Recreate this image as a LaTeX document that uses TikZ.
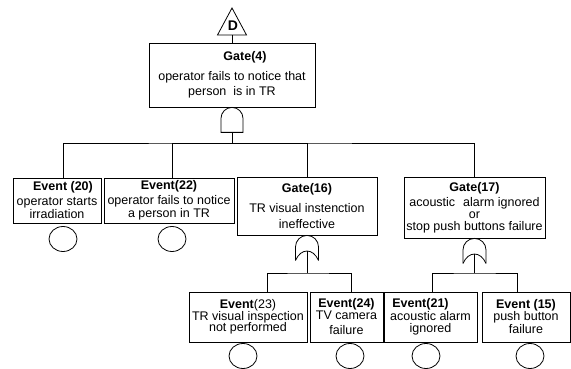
\documentclass[tikz,border=0pt]{standalone}
\usepackage{fontspec}
\setmainfont{Liberation Sans}
\usetikzlibrary{positioning,shapes.geometric}

\begin{document}
\begin{tikzpicture}[
    x=1pt, y=-1pt,
    line width=0.8pt,
    font=\fontsize{12.5}{12.5}\selectfont,
    fbox/.style={draw,align=center,inner sep=0pt},
    basic/.style={draw,ellipse,minimum width=28pt,minimum height=25pt,inner sep=0pt},
    andgate/.pic={
      \draw (-11,25) -- (-11,11) arc[start angle=180,end angle=0,radius=11pt] -- (11,25) -- cycle;
      \coordinate (-out) at (0,25);
    },
    orgate/.pic={
      \draw (-11.5,25) -- (-11.5,11.5) arc[start angle=180,end angle=0,radius=11.5pt] -- (11.5,25);
      \draw (-11.5,25) .. controls (-6,12.5) and (6,12.5) .. (11.5,25);
      \coordinate (-out) at (0,15.6);
    }
  ]
  \useasboundingbox (0,0) rectangle (571,369);

  % top event
  \node[fbox,minimum width=166pt,minimum height=64pt] (g4) at (232,75)
    {\hspace*{26pt}\textbf{Gate(4)}\\[7.5pt]operator fails to notice that\\[2.5pt]person\ \ is in TR};
  \coordinate (tri) at (232,35);
  \draw (tri) ++(-14.5,0) -- ++(29,0) -- (232,8) -- cycle;
  \node[font=\fontsize{14}{14}\selectfont\bfseries] (xfer) at (233,26) {D};
  \draw (tri) -- (g4.north);
  \pic (g4and) at (g4.south) {andgate};

  % second level
  \node[fbox,minimum width=88pt,minimum height=45pt] (e20) at (57,200.5)
    {\hspace*{12pt}\textbf{Event (20)}\\[2.5pt]operator starts\\[0.5pt]irradiation};
  \node[fbox,minimum width=130pt,minimum height=45pt] (e22) at (169,200.5)
    {\textbf{Event(22)}\\[2.5pt]operator fails to notice\\[0.5pt]a person in TR};
  \node[fbox,minimum width=140pt,minimum height=58pt] (g16) at (307,206)
    {\textbf{Gate(16)}\\[7.5pt]TR visual instenction\\[3.5pt]ineffective};
  \node[fbox,minimum width=141pt,minimum height=61pt] (g17) at (474.5,207.5)
    {\textbf{Gate(17)}\\[3pt]acoustic\hspace{8pt}alarm ignored\\[-1pt]or\hspace*{18pt}\\[-0.5pt]stop push buttons failure};
  \node[basic] (c20) at (63,239) {};
  \node[basic] (c22) at (172,239) {};

  \coordinate (bar4) at (232,143);
  \draw (g4and-out) -- (bar4);
  \draw ([xshift=6pt]e20.north) |- (bar4) -| (g17.north);
  \draw ([xshift=3pt]e22.north) |- (bar4);
  \draw (g16.north) |- (bar4);

  \pic (g16or) at (g16.south) {orgate};
  \pic (g17or) at (g17.south) {orgate};

  % third level
  \node[fbox,minimum width=118pt,minimum height=50pt] (e23) at (248,317)
    {\textbf{Event}(23)\\[-0.5pt]TR visual inspection\\[-1pt]not performed};
  \node[fbox,minimum width=73pt,minimum height=50pt] (e24) at (346.5,317)
    {\textbf{Event(24)}\\[-0.5pt]TV camera\\[2.5pt]failure};
  \node[fbox,minimum width=93pt,minimum height=50pt] (e21) at (430.5,317)
    {\textbf{Event(21)}\hspace*{20pt}\\[1pt]acoustic alarm\\[-0.5pt]ignored};
  \node[fbox,minimum width=88pt,minimum height=50pt] (e15) at (526,317)
    {\textbf{Event (15)}\\[-0.5pt]push button\\[0.5pt]failure};
  \node[basic] (c23) at (243,356) {};
  \node[basic] (c24) at (350,356) {};
  \node[basic] (c21) at (426,356) {};
  \node[basic] (c15) at (530,356) {};

  \coordinate (bar16) at (307,273);
  \coordinate (bar17) at (474.5,273);
  \draw (g16or-out) -- (bar16);
  \draw ([xshift=19pt]e23.north) |- (bar16) -| ([xshift=4.5pt]e24.north);
  \draw (g17or-out) -- (bar17);
  \draw ([xshift=1.5pt]e21.north) |- (bar17) -| ([xshift=-9pt]e15.north);
\end{tikzpicture}
\end{document}
